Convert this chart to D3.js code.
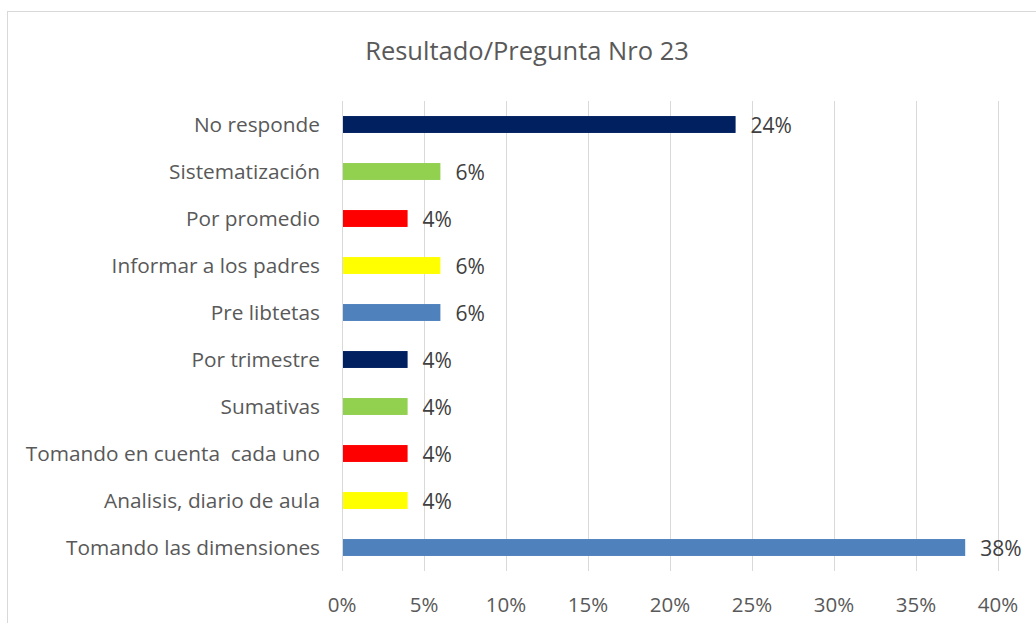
<!DOCTYPE html>
<html>
<head>
<meta charset="utf-8">
<script src="https://cdn.jsdelivr.net/npm/d3@7"></script>
<style>
  body { margin: 0; background: #fff; }
  svg { display: block; font-family: "Open Sans", "Liberation Sans", sans-serif; }
</style>
</head>
<body>
<div id="chart"></div>
<script>
// Categories, top to bottom
var Categories = ["No responde", "Sistematización", "Por promedio", "Informar a los padres",
    "Pre libtetas", "Por trimestre", "Sumativas", "Tomando en cuenta\u00a0 cada uno",
    "Analisis, diario de aula", "Tomando las dimensiones"];
// Percent values
var Values = [24, 6, 4, 6, 6, 4, 4, 4, 4, 38];
// Bar colours, in the same order
var Colors = ["#002060", "#92D050", "#FF0000", "#FFFF00", "#4F81BD",
    "#002060", "#92D050", "#FF0000", "#FFFF00", "#4F81BD"];
var Ticks = [0, 5, 10, 15, 20, 25, 30, 35, 40];
var Title = "Resultado/Pregunta Nro 23";

var Width = 1036, Height = 623;
var Plot = { Left: 342, Right: 998, Top: 101, Bottom: 571 };

var Svg = d3.select("#chart").append("svg")
    .attr("width", Width).attr("height", Height);

// Chart border (right and bottom run off the picture)
Svg.append("rect")
    .attr("x", 7.5).attr("y", 11.5)
    .attr("width", 1060).attr("height", 640)
    .attr("fill", "#fff").attr("stroke", "#d9d9d9");

// Title
Svg.append("text")
    .attr("x", 527).attr("y", 60)
    .attr("text-anchor", "middle")
    .attr("font-size", 25.5).attr("fill", "#595959")
    .text(Title);

var X = d3.scaleLinear().domain([0, 40]).range([Plot.Left, Plot.Right]);
var Y = d3.scaleBand().domain(Categories).range([Plot.Top, Plot.Bottom])
    .paddingInner(0.64).paddingOuter(0.32);

// Gridlines
Svg.append("g").selectAll("line").data(Ticks).join("line")
    .attr("x1", (T) => Math.round(X(T)) + 0.5)
    .attr("x2", (T) => Math.round(X(T)) + 0.5)
    .attr("y1", Plot.Top).attr("y2", Plot.Bottom)
    .attr("stroke", "#d9d9d9").attr("stroke-width", 1);

// Tick labels
Svg.append("g").selectAll("text").data(Ticks).join("text")
    .attr("x", (T) => X(T)).attr("y", 612)
    .attr("text-anchor", "middle")
    .attr("font-size", 20.5).attr("fill", "#595959")
    .text((T) => T + "%");

// Category labels
Svg.append("g").selectAll("text").data(Categories).join("text")
    .attr("x", Plot.Left - 22)
    .attr("y", (C) => Y(C) + Y.bandwidth() / 2)
    .attr("dy", "0.35em")
    .attr("text-anchor", "end")
    .attr("font-size", 20.8).attr("fill", "#595959")
    .text((C) => C);

// Bars
Svg.append("g").selectAll("rect").data(Categories).join("rect")
    .attr("x", X(0) + 1)
    .attr("y", (C) => Y(C))
    .attr("width", (C, I) => X(Values[I]) - X(0) - 1)
    .attr("height", Y.bandwidth())
    .attr("fill", (C, I) => Colors[I]);

// Data labels
Svg.append("g").selectAll("text").data(Categories).join("text")
    .attr("x", (C, I) => X(Values[I]) + 15)
    .attr("y", (C) => Y(C) + Y.bandwidth() / 2 + 1.5)
    .attr("dy", "0.35em")
    .attr("font-size", 21).attr("fill", "#404040")
    .text((C, I) => Values[I] + "%");
</script>
</body>
</html>
